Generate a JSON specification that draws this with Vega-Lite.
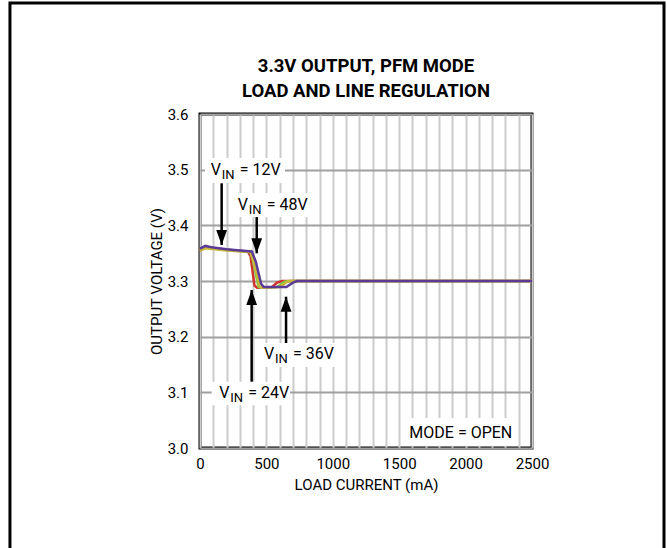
{
  "$schema": "https://vega.github.io/schema/vega-lite/v6.json",
  "width": 332,
  "height": 334,
  "autosize": {"type": "none"},
  "padding": {"left": 200, "top": 114, "right": 135, "bottom": 100},
  "background": "white",
  "config": {
    "font": "Roboto",
    "view": {"stroke": "black", "strokeWidth": 3},
    "axis": {"labelFont": "Roboto", "titleFont": "Roboto", "labelColor": "black", "titleColor": "black", "labelFontSize": 15, "titleFontSize": 15, "titleFontWeight": "normal", "ticks": false, "domain": false, "labelOverlap": false}
  },
  "title": {
    "text": ["3.3V OUTPUT, PFM MODE", "LOAD AND LINE REGULATION"],
    "fontSize": 18.5,
    "fontWeight": "bold",
    "lineHeight": 25,
    "anchor": "middle",
    "frame": "group",
    "baseline": "top",
    "offset": 0,
    "dy": 99,
    "color": "black",
    "font": "Roboto"
  },
  "datasets": {
    "curves": [
      {"vin": "12V", "current": 0, "voltage": 3.355},
      {"vin": "12V", "current": 40, "voltage": 3.361},
      {"vin": "12V", "current": 200, "voltage": 3.356},
      {"vin": "12V", "current": 360, "voltage": 3.353},
      {"vin": "12V", "current": 380, "voltage": 3.345},
      {"vin": "12V", "current": 410, "voltage": 3.292},
      {"vin": "12V", "current": 430, "voltage": 3.288},
      {"vin": "12V", "current": 540, "voltage": 3.289},
      {"vin": "12V", "current": 580, "voltage": 3.297},
      {"vin": "12V", "current": 620, "voltage": 3.3},
      {"vin": "12V", "current": 2500, "voltage": 3.3},
      {"vin": "24V", "current": 0, "voltage": 3.356},
      {"vin": "24V", "current": 40, "voltage": 3.36},
      {"vin": "24V", "current": 200, "voltage": 3.356},
      {"vin": "24V", "current": 380, "voltage": 3.352},
      {"vin": "24V", "current": 400, "voltage": 3.335},
      {"vin": "24V", "current": 440, "voltage": 3.29},
      {"vin": "24V", "current": 460, "voltage": 3.288},
      {"vin": "24V", "current": 580, "voltage": 3.289},
      {"vin": "24V", "current": 640, "voltage": 3.299},
      {"vin": "24V", "current": 680, "voltage": 3.3},
      {"vin": "24V", "current": 2500, "voltage": 3.3},
      {"vin": "36V", "current": 0, "voltage": 3.354},
      {"vin": "36V", "current": 40, "voltage": 3.359},
      {"vin": "36V", "current": 200, "voltage": 3.355},
      {"vin": "36V", "current": 380, "voltage": 3.352},
      {"vin": "36V", "current": 410, "voltage": 3.33},
      {"vin": "36V", "current": 450, "voltage": 3.29},
      {"vin": "36V", "current": 470, "voltage": 3.288},
      {"vin": "36V", "current": 600, "voltage": 3.289},
      {"vin": "36V", "current": 660, "voltage": 3.299},
      {"vin": "36V", "current": 700, "voltage": 3.3},
      {"vin": "36V", "current": 2500, "voltage": 3.3},
      {"vin": "48V", "current": 0, "voltage": 3.358},
      {"vin": "48V", "current": 40, "voltage": 3.363},
      {"vin": "48V", "current": 100, "voltage": 3.36},
      {"vin": "48V", "current": 200, "voltage": 3.357},
      {"vin": "48V", "current": 300, "voltage": 3.355},
      {"vin": "48V", "current": 390, "voltage": 3.353},
      {"vin": "48V", "current": 420, "voltage": 3.335},
      {"vin": "48V", "current": 460, "voltage": 3.295},
      {"vin": "48V", "current": 480, "voltage": 3.289},
      {"vin": "48V", "current": 650, "voltage": 3.289},
      {"vin": "48V", "current": 700, "voltage": 3.297},
      {"vin": "48V", "current": 730, "voltage": 3.3},
      {"vin": "48V", "current": 2500, "voltage": 3.3}
    ],
    "boxes": [
      {"x1": 38, "x2": 640, "y1": 3.521, "y2": 3.476},
      {"x1": 248, "x2": 813, "y1": 3.458, "y2": 3.415},
      {"x1": 467, "x2": 1017, "y1": 3.1886, "y2": 3.1455},
      {"x1": 88, "x2": 678, "y1": 3.119, "y2": 3.077},
      {"x1": 1529, "x2": 2395, "y1": 3.054, "y2": 3.004}
    ],
    "labels": [
      {"rest": "= 12V", "current": 81, "voltage": 3.4904},
      {"rest": "= 48V", "current": 284, "voltage": 3.4275},
      {"rest": "= 36V", "current": 482, "voltage": 3.1593},
      {"rest": "= 24V", "current": 145, "voltage": 3.0898}
    ],
    "arrows": [
      {"dir": "down", "current": 163, "base": 3.4755, "tip": 3.3647},
      {"dir": "down", "current": 427, "base": 3.4149, "tip": 3.3497},
      {"dir": "up", "current": 648, "base": 3.1886, "tip": 3.2718},
      {"dir": "up", "current": 389, "base": 3.1191, "tip": 3.2838}
    ]
  },
  "layer": [
    {
      "data": {"name": "curves"},
      "mark": {"type": "line", "strokeWidth": 2.5, "interpolate": "linear"},
      "encoding": {
        "x": {
          "field": "current", "type": "quantitative",
          "scale": {"domain": [0, 2500], "nice": false, "zero": false},
          "axis": {
            "title": "LOAD CURRENT (mA)",
            "values": [0,100,200,300,400,500,600,700,800,900,1000,1100,1200,1300,1400,1500,1600,1700,1800,1900,2000,2100,2200,2300,2400,2500],
            "tickCount": 40,
            "labelExpr": "datum.value % 500 === 0 ? datum.label : ''",
            "format": "d",
            "grid": true, "gridColor": "#cccccc", "gridWidth": 2, "gridOpacity": 1,
            "labelPadding": 8, "titlePadding": 6, "labelFlush": false, "labelOverlap": false
          }
        },
        "y": {
          "field": "voltage", "type": "quantitative",
          "scale": {"domain": [3.0, 3.6], "nice": false, "zero": false},
          "axis": {
            "title": "OUTPUT VOLTAGE (V)",
            "values": [3.0, 3.1, 3.2, 3.3, 3.4, 3.5, 3.6],
            "tickCount": 20,
            "format": ".1f",
            "grid": true, "gridColor": "#a0a0a0", "gridWidth": 2, "gridOpacity": 1,
            "labelPadding": 12, "titlePadding": 3, "labelFlush": false, "labelOverlap": false
          }
        },
        "color": {
          "field": "vin", "type": "nominal",
          "scale": {"domain": ["12V", "24V", "36V", "48V"], "range": ["#d0312d", "#84c441", "#c9b83a", "#5b3b96"]},
          "legend": null
        }
      }
    },
    {
      "data": {"name": "boxes"},
      "mark": {"type": "rect", "fill": "white", "stroke": null},
      "encoding": {
        "x": {"field": "x1", "type": "quantitative"},
        "x2": {"field": "x2"},
        "y": {"field": "y1", "type": "quantitative"},
        "y2": {"field": "y2"}
      }
    },
    {
      "data": {"name": "arrows"},
      "mark": {"type": "rule", "color": "black", "strokeWidth": 2.5},
      "encoding": {
        "x": {"field": "current", "type": "quantitative"},
        "y": {"field": "base", "type": "quantitative"},
        "y2": {"field": "tip"}
      }
    },
    {
      "data": {"name": "arrows"},
      "mark": {"type": "point", "filled": true, "color": "black", "opacity": 1, "size": 900, "strokeWidth": 0},
      "encoding": {
        "x": {"field": "current", "type": "quantitative"},
        "y": {"field": "tip", "type": "quantitative"},
        "shape": {
          "field": "dir", "type": "nominal",
          "scale": {"domain": ["down", "up"], "range": ["M -0.36 -1 L 0.36 -1 L 0 0 Z", "M -0.36 1 L 0.36 1 L 0 0 Z"]},
          "legend": null
        }
      }
    },
    {
      "data": {"name": "labels"},
      "mark": {"type": "text", "text": "V", "align": "left", "baseline": "alphabetic", "fontSize": 16, "color": "black"},
      "encoding": {
        "x": {"field": "current", "type": "quantitative"},
        "y": {"field": "voltage", "type": "quantitative"}
      }
    },
    {
      "data": {"name": "labels"},
      "mark": {"type": "text", "text": "IN", "align": "left", "baseline": "alphabetic", "fontSize": 13, "dx": 11, "dy": 4, "color": "black"},
      "encoding": {
        "x": {"field": "current", "type": "quantitative"},
        "y": {"field": "voltage", "type": "quantitative"}
      }
    },
    {
      "data": {"name": "labels"},
      "mark": {"type": "text", "align": "left", "baseline": "alphabetic", "fontSize": 16, "dx": 29, "color": "black"},
      "encoding": {
        "x": {"field": "current", "type": "quantitative"},
        "y": {"field": "voltage", "type": "quantitative"},
        "text": {"field": "rest"}
      }
    },
    {
      "data": {"values": [{"note": "MODE = OPEN", "current": 1964, "voltage": 3.0174}]},
      "mark": {"type": "text", "align": "center", "baseline": "alphabetic", "fontSize": 16, "color": "black"},
      "encoding": {
        "x": {"field": "current", "type": "quantitative"},
        "y": {"field": "voltage", "type": "quantitative"},
        "text": {"field": "note"}
      }
    },
    {
      "data": {"values": [{"left": -1431, "right": 3494, "top": 3.7993, "bottom": 2.799}]},
      "mark": {"type": "rect", "fill": null, "fillOpacity": 0, "stroke": "black", "strokeWidth": 3, "clip": false},
      "encoding": {
        "x": {"field": "left", "type": "quantitative"},
        "x2": {"field": "right"},
        "y": {"field": "top", "type": "quantitative"},
        "y2": {"field": "bottom"}
      }
    }
  ]
}
